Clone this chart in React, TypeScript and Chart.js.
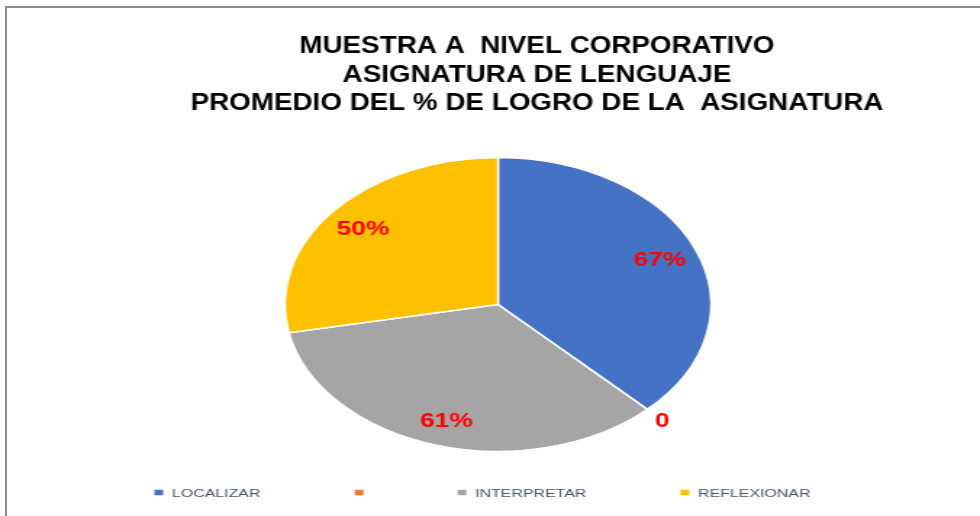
import React, { useEffect, useRef } from "react";
import { Chart, registerables } from "chart.js";

Chart.register(...registerables);

// ---- data ----
const categories = ["LOCALIZAR", "", "INTERPRETAR", "REFLEXIONAR"];
const values = [67, 0, 61, 50];
const sliceColors = ["#4472C4", "#ED7D31", "#A5A5A5", "#FFC000"];
const titleLines = [
  "MUESTRA A  NIVEL CORPORATIVO",
  "ASIGNATURA DE LENGUAJE",
  "PROMEDIO DEL % DE LOGRO DE LA  ASIGNATURA",
];

// ---- layout (internal canvas is stretched horizontally like the original picture) ----
const W = 676;
const H = 516;
const STRETCH = 980 / W;
const FONT = '"Liberation Sans", Arial, sans-serif';

const titlePlugin = {
  id: "titleText",
  afterDraw(chart: any) {
    const ctx = chart.ctx as CanvasRenderingContext2D;
    ctx.save();
    ctx.fillStyle = "#000000";
    ctx.font = `bold 23.5px ${FONT}`;
    ctx.textAlign = "center";
    ctx.textBaseline = "alphabetic";
    const baselines = [53, 81.5, 109.5];
    titleLines.forEach((line, i) => {
      ctx.save();
      ctx.translate(370.4, baselines[i]);
      ctx.scale(0.816, 1);
      ctx.fillText(line, 0, 0);
      ctx.restore();
    });
    ctx.restore();
  },
};

const dataLabelPlugin = {
  id: "dataLabels",
  afterDatasetsDraw(chart: any) {
    const ctx = chart.ctx as CanvasRenderingContext2D;
    const meta = chart.getDatasetMeta(0);
    const data = chart.data.datasets[0].data as number[];
    const fs = 19.5;
    ctx.save();
    ctx.fillStyle = "#FF0000";
    ctx.font = `bold ${fs}px ${FONT}`;
    ctx.textAlign = "center";
    ctx.textBaseline = "alphabetic";
    meta.data.forEach((arc: any, i: number) => {
      const { x, y, startAngle, endAngle, outerRadius } = arc.getProps(
        ["x", "y", "startAngle", "endAngle", "outerRadius"],
        true
      );
      const v = data[i];
      const mid = (startAngle + endAngle) / 2;
      const r = v > 0 ? outerRadius * 0.82 : outerRadius * 1.1;
      const lx = x + Math.cos(mid) * r;
      const ly = y + Math.sin(mid) * r;
      const text = v > 0 ? `${v}%` : `${v}`;
      ctx.save();
      ctx.translate(lx, ly + (0.716 * fs) / 2);
      ctx.scale(0.93, 1);
      ctx.fillText(text, 0, 0);
      ctx.restore();
    });
    ctx.restore();
  },
};

const legendPlugin = {
  id: "bottomLegend",
  afterDraw(chart: any) {
    const ctx = chart.ctx as CanvasRenderingContext2D;
    const labels = chart.data.labels as string[];
    const colors = chart.data.datasets[0].backgroundColor as string[];
    const fs = 11;
    const box = 6;
    const boxGap = 6;
    const itemGap = 65;
    ctx.save();
    ctx.font = `${fs}px ${FONT}`;
    const widths = labels.map((l) => box + (l ? boxGap + ctx.measureText(l).width : 0));
    const total = widths.reduce((a, b) => a + b, 0) + itemGap * (labels.length - 1);
    let x = 332.8 - total / 2;
    const baseline = 496.5;
    const boxCenter = 492.5;
    labels.forEach((l, i) => {
      ctx.fillStyle = colors[i];
      ctx.fillRect(x, boxCenter - 2.75, box, 5.5);
      if (l) {
        ctx.fillStyle = "#44546A";
        ctx.textAlign = "left";
        ctx.textBaseline = "alphabetic";
        ctx.fillText(l, x + box + boxGap, baseline);
      }
      x += widths[i] + itemGap;
    });
    ctx.restore();
  },
};

export default function App() {
  const canvasRef = useRef<HTMLCanvasElement | null>(null);

  useEffect(() => {
    const canvas = canvasRef.current;
    if (!canvas) return;
    const chart = new Chart(canvas, {
      type: "pie",
      data: {
        labels: categories,
        datasets: [
          {
            data: values,
            backgroundColor: sliceColors,
            borderColor: "#FFFFFF",
            borderWidth: 1.5,
          },
        ],
      },
      options: {
        responsive: false,
        animation: false,
        layout: {
          padding: { top: 156.75, bottom: 63.75, left: 195.75, right: 184.75 },
        },
        plugins: {
          legend: { display: false },
          title: { display: false },
          tooltip: { enabled: false },
        },
      },
      plugins: [titlePlugin, dataLabelPlugin, legendPlugin],
    });
    return () => chart.destroy();
  }, []);

  return (
    <div
      style={{
        position: "fixed",
        left: 0,
        top: 0,
        width: 980,
        height: 516,
        overflow: "hidden",
        background: "#FFFFFF",
      }}
    >
      <canvas
        ref={canvasRef}
        width={W}
        height={H}
        style={{
          position: "absolute",
          left: 0,
          top: 0,
          width: W,
          height: H,
          transform: `scaleX(${STRETCH})`,
          transformOrigin: "0 0",
        }}
      />
      <div
        style={{
          position: "absolute",
          left: 5,
          top: 6,
          width: 975,
          height: 510,
          boxSizing: "border-box",
          borderTop: "2px solid #8A8A8A",
          borderLeft: "2px solid #8A8A8A",
          pointerEvents: "none",
        }}
      />
    </div>
  );
}
